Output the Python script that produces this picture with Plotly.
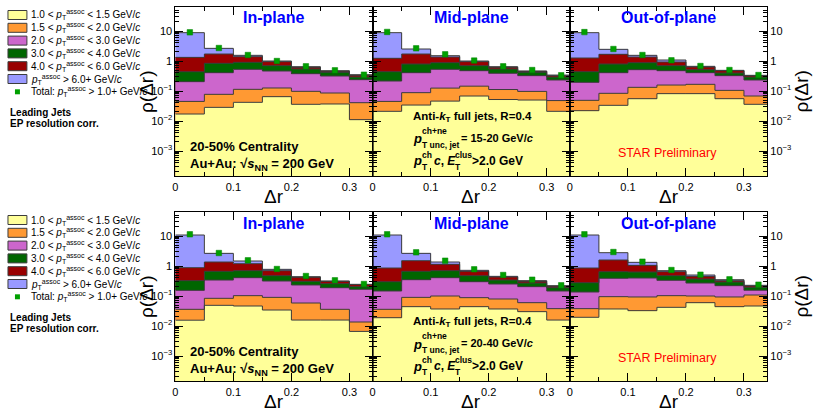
import plotly.graph_objects as go

# ---------------- data ----------------
BIN_EDGES = [0.0, 0.05, 0.10, 0.15, 0.20, 0.25, 0.30, 0.35]
X_TICKS = [0.0, 0.1, 0.2, 0.3]
X_TICKTEXT = ["0", "0.1", "0.2", "0.3"]
Y_TICKS = [1e-3, 1e-2, 1e-1, 1, 10]
Y_TICKTEXT = ["10<sup>\u22123</sup>", "10<sup>\u22122</sup>", "10<sup>\u22121</sup>", "1", "10"]
PANEL_TITLES = ["In-plane", "Mid-plane", "Out-of-plane"]
JET_PT_RANGES = ["15-20", "20-40"]
LAYERS = ["yellow", "orange", "violet", "green", "red", "blue"]
LEGEND_LABELS = [
    "1.0 &lt; <i>p</i><sub>T</sub><sup>assoc</sup> &lt; 1.5 GeV/<i>c</i>",
    "1.5 &lt; <i>p</i><sub>T</sub><sup>assoc</sup> &lt; 2.0 GeV/<i>c</i>",
    "2.0 &lt; <i>p</i><sub>T</sub><sup>assoc</sup> &lt; 3.0 GeV/<i>c</i>",
    "3.0 &lt; <i>p</i><sub>T</sub><sup>assoc</sup> &lt; 4.0 GeV/<i>c</i>",
    "4.0 &lt; <i>p</i><sub>T</sub><sup>assoc</sup> &lt; 6.0 GeV/<i>c</i>",
    "<i>p</i><sub>T</sub><sup>assoc</sup> &gt; 6.0+ GeV/<i>c</i>",
    "Total: <i>p</i><sub>T</sub><sup>assoc</sup> &gt; 1.0+ GeV/<i>c</i>",
]

# cumulative (stacked) levels of each layer
IN_15_20 = dict(
    yellow=[0.0171, 0.0285, 0.0419, 0.0648, 0.036, 0.0369, 0.0111],
    orange=[0.045, 0.0774, 0.1137, 0.126, 0.0975, 0.0858, 0.0408],
    violet=[0.205, 0.408, 0.527, 0.464, 0.378, 0.316, 0.239],
    green=[0.44, 0.836, 0.903, 0.699, 0.541, 0.419, 0.293],
    red=[1.32, 1.71, 1.395, 0.95, 0.615, 0.452, 0.333],
    blue=[8.8, 2.64, 1.545, 1.0, 0.647, 0.476, 0.350],
)
TOTAL_IN_15_20 = [9.0, 2.71, 1.585, 1.0, 0.664, 0.488, 0.35]

MID_15_20 = dict(
    yellow=[0.021, 0.034, 0.046, 0.068, 0.052, 0.050, 0.021],
    orange=[0.045, 0.088, 0.125, 0.145, 0.112, 0.097, 0.048],
    violet=[0.215, 0.408, 0.527, 0.476, 0.388, 0.325, 0.233],
    green=[0.441, 0.794, 0.88, 0.699, 0.541, 0.419, 0.293],
    red=[1.23, 1.71, 1.36, 0.95, 0.615, 0.452, 0.325],
    blue=[8.8, 2.51, 1.505, 1.0, 0.647, 0.464, 0.34],
)
TOTAL_MID_15_20 = [9.3, 2.64, 1.67, 1.03, 0.664, 0.50, 0.335]

OUT_15_20 = dict(
    yellow=[0.0221, 0.0333, 0.0554, 0.0816, 0.0816, 0.0554, 0.036],
    orange=[0.0489, 0.0837, 0.1326, 0.158, 0.167, 0.105, 0.0681],
    violet=[0.194, 0.408, 0.514, 0.476, 0.408, 0.325, 0.233],
    green=[0.441, 0.794, 0.88, 0.699, 0.514, 0.398, 0.293],
    red=[1.259, 1.67, 1.36, 0.926, 0.631, 0.476, 0.325],
    blue=[8.8, 2.45, 1.545, 1.08, 0.664, 0.488, 0.333],
)
TOTAL_OUT_15_20 = [9.2, 2.51, 1.585, 1.05, 0.681, 0.501, 0.341]

IN_20_40 = dict(
    yellow=[0.0156, 0.0489, 0.0464, 0.0341, 0.0158, 0.0158, 0.0066],
    orange=[0.036, 0.0837, 0.1026, 0.0901, 0.0584, 0.036, 0.0136],
    violet=[0.154, 0.341, 0.408, 0.316, 0.233, 0.189, 0.167],
    green=[0.325, 0.664, 0.699, 0.476, 0.308, 0.258, 0.205],
    red=[0.88, 1.36, 1.196, 0.699, 0.419, 0.308, 0.239],
    blue=[10.8, 2.64, 1.468, 0.774, 0.441, 0.316, 0.245],
)
TOTAL_IN_20_40 = [11.4, 2.71, 1.545, 0.794, 0.464, 0.333, 0.251]

MID_20_40 = dict(
    yellow=[0.0189, 0.0441, 0.0369, 0.0441, 0.0369, 0.0301, 0.0158],
    orange=[0.036, 0.0901, 0.1, 0.088, 0.0794, 0.0599, 0.0379],
    violet=[0.147, 0.35, 0.408, 0.3, 0.251, 0.205, 0.147],
    green=[0.3, 0.664, 0.699, 0.476, 0.341, 0.271, 0.19],
    red=[0.858, 1.505, 1.137, 0.664, 0.43, 0.308, 0.21],
    blue=[10.8, 2.64, 1.36, 0.717, 0.452, 0.325, 0.221],
)
TOTAL_MID_20_40 = [11.4, 2.85, 1.505, 0.774, 0.501, 0.35, 0.227]

OUT_20_40 = dict(
    yellow=[0.0195, 0.0369, 0.0325, 0.0419, 0.0599, 0.0441, 0.0464],
    orange=[0.0379, 0.095, 0.0928, 0.1026, 0.1, 0.0928, 0.108],
    violet=[0.136, 0.388, 0.398, 0.333, 0.271, 0.221, 0.155],
    green=[0.278, 0.647, 0.631, 0.476, 0.368, 0.293, 0.194],
    red=[0.858, 1.585, 1.05, 0.647, 0.452, 0.325, 0.215],
    blue=[10.8, 2.78, 1.325, 0.699, 0.501, 0.35, 0.227],
)
TOTAL_OUT_20_40 = [11.4, 2.93, 1.395, 0.736, 0.514, 0.359, 0.239]

PANELS = [
    (IN_15_20, TOTAL_IN_15_20), (MID_15_20, TOTAL_MID_15_20), (OUT_15_20, TOTAL_OUT_15_20),
    (IN_20_40, TOTAL_IN_20_40), (MID_20_40, TOTAL_MID_20_40), (OUT_20_40, TOTAL_OUT_20_40),
]

# ---------------- style ----------------
COLORS = dict(yellow="#ffff99", orange="#ff9933", violet="#cc66cc",
              green="#006600", red="#990000", blue="#9999ff")
OUTLINE = "#3c3c3c"
MARKER = "#00a000"
FONT = "Liberation Sans, Arial, sans-serif"
W, H = 813, 412
COLS = [(173, 371), (371, 569), (569, 767)]
ROWS = [(7, 176), (212, 381)]
YRANGE = [-3.833, 1.8]


def px(x):
    return x / W


def py(y):
    return 1 - y / H


centers = [(BIN_EDGES[i] + BIN_EDGES[i + 1]) / 2 for i in range(len(BIN_EDGES) - 1)]
minor_y = [k * 10 ** d for d in range(-4, 2) for k in range(2, 10)]

fig = go.Figure()
layout = dict(width=W, height=H, margin=dict(l=0, r=0, t=0, b=0),
              paper_bgcolor="white", plot_bgcolor="white",
              barmode="overlay", bargap=0, showlegend=False,
              font=dict(family=FONT, color="black"))
annotations = []
shapes = []


def ann(x, y, text, size, color="black", xanchor="left", angle=0, yanchor="middle"):
    annotations.append(dict(x=px(x), y=py(y), xref="paper", yref="paper", text=text,
                            showarrow=False, xanchor=xanchor, yanchor=yanchor,
                            textangle=angle, borderpad=0,
                            font=dict(family=FONT, size=size, color=color)))


for idx, (panel, totals) in enumerate(PANELS):
    r, c = divmod(idx, 3)
    n = idx + 1
    xa, ya = f"x{n}", f"y{n}"
    # fills: largest cumulative level first
    for layer in reversed(LAYERS):
        fig.add_trace(go.Bar(x=centers, y=panel[layer], width=0.05, xaxis=xa, yaxis=ya,
                             marker=dict(color=COLORS[layer], line=dict(width=0)),
                             hoverinfo="skip"))
    for layer in reversed(LAYERS):
        vals = panel[layer]
        fig.add_trace(go.Scatter(x=BIN_EDGES, y=vals + [vals[-1]], mode="lines",
                                 xaxis=xa, yaxis=ya,
                                 line=dict(shape="hv", color=OUTLINE, width=1),
                                 hoverinfo="skip"))
    fig.add_trace(go.Scatter(x=centers, y=totals, mode="markers", xaxis=xa, yaxis=ya,
                             marker=dict(symbol="square", size=5.5, color=MARKER,
                                         line=dict(color="#008000", width=0.5))))
    x0, x1 = COLS[c]
    y0, y1 = ROWS[r]
    key = "" if n == 1 else str(n)
    layout["xaxis" + key] = dict(
        domain=[px(x0), px(x1)], anchor=ya, range=[0, 0.34],
        tickmode="array", tickvals=X_TICKS, ticktext=X_TICKTEXT,
        ticks="inside", ticklen=8, tickcolor="black", tickwidth=1,
        minor=dict(tickmode="array", tickvals=[0.05, 0.15, 0.25], ticks="inside",
                   ticklen=4, tickcolor="black"),
        showline=True, linecolor="black", linewidth=1, mirror="ticks",
        showgrid=False, zeroline=False, ticklabelstandoff=1,
        tickfont=dict(family=FONT, size=11, color="black"))
    layout["yaxis" + key] = dict(
        domain=[py(y1), py(y0)], anchor=xa, type="log", range=YRANGE,
        tickmode="array", tickvals=Y_TICKS, ticktext=Y_TICKTEXT,
        ticks="inside", ticklen=8, tickcolor="black", tickwidth=1,
        minor=dict(tickmode="array", tickvals=minor_y, ticks="inside",
                   ticklen=4, tickcolor="black"),
        showline=True, linecolor="black", linewidth=1, mirror="ticks",
        showgrid=False, zeroline=False,
        side="right" if c == 2 else "left",
        showticklabels=(c != 1),
        tickfont=dict(family=FONT, size=11, color="black"))
    if c > 0:
        shapes.append(dict(type="line", xref=xa, yref=f"{ya} domain", x0=0, x1=0,
                           y0=0, y1=1, line=dict(color="black", width=2)))
    cx = (x0 + x1) / 2
    ann(cx, y0 + 11, f"<b>{PANEL_TITLES[c]}</b>", 16, color="#0000ff", xanchor="center")
    ann(cx, y1 + 20.5, "\u0394r", 19, xanchor="center")

# y-axis titles
for r, (y0, y1) in enumerate(ROWS):
    cy = (y0 + y1) / 2
    ann(144, cy, "\u03c1(\u0394r)", 19, xanchor="center", angle=-90)
    ann(801, cy, "\u03c1(\u0394r)", 19, xanchor="center", angle=-90)

# in-panel texts
for r, (y0, y1) in enumerate(ROWS):
    off = y0 - 7
    ann(187, 146 + off, "<b>20-50% Centrality</b>", 13)
    ann(187, 164 + off, "<b>Au+Au: \u221a<i>s</i><sub>NN</sub> = 200 GeV</b>", 13)
    ann(411, 117 + off, "<b>Anti-<i>k</i><sub>T</sub> full jets, R=0.4</b>", 11.5)
    ann(411, 139 + off, "<b><i>p</i></b>", 13)
    ann(420, 131 + off, "<b>ch+ne</b>", 8.5)
    ann(420, 145 + off, "<b>T unc, jet</b>", 8.5)
    ann(459, 138 + off, f"<b>= {JET_PT_RANGES[r]} GeV/<i>c</i></b>", 11)
    ann(411, 161 + off, "<b><i>p</i></b>", 13)
    ann(420, 155 + off, "<b>ch</b>", 8.5)
    ann(420, 167 + off, "<b>T</b>", 8.5)
    ann(432, 161 + off, "<b><i>c</i>, <i>E</i></b>", 12)
    ann(453, 155 + off, "<b>clus</b>", 8.5)
    ann(453, 167 + off, "<b>T</b>", 8.5)
    ann(470, 161 + off, "<b>&gt;2.0 GeV</b>", 12)
    ann(667, 153 + off, "STAR Preliminary", 12.5, color="#ff0000", xanchor="center")

    # legend
    for i, label in enumerate(LEGEND_LABELS):
        yc = 15 + 12.8 * i + off
        if i < len(LAYERS):
            shapes.append(dict(type="rect", xref="paper", yref="paper",
                               x0=px(5), x1=px(24), y0=py(yc + 4.5), y1=py(yc - 4.5),
                               fillcolor=COLORS[LAYERS[i]],
                               line=dict(color=OUTLINE, width=1)))
        else:
            shapes.append(dict(type="rect", xref="paper", yref="paper",
                               x0=px(12), x1=px(17), y0=py(yc + 2.5), y1=py(yc - 2.5),
                               fillcolor=MARKER, line=dict(width=0)))
        ann(27, yc, label, 10)
    ann(6, 112 + off, "<b>Leading Jets</b>", 10)
    ann(6, 123.5 + off, "<b>EP resolution corr.</b>", 10)

layout["annotations"] = annotations
layout["shapes"] = shapes
fig.update_layout(**layout)
fig.write_html("out.html")
